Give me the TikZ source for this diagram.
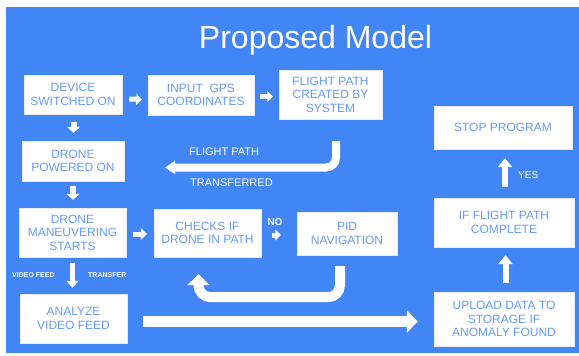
\documentclass[tikz,border=0pt]{standalone}
\usepackage{fontspec}
\setmainfont{Liberation Sans}
\usetikzlibrary{arrows.meta}
\definecolor{bgblue}{RGB}{66,133,244}
\definecolor{txtblue}{RGB}{104,155,240}
\tikzset{
  box/.style={fill=white, draw=black!8, line width=0.4pt, align=center, text=txtblue,
    font=\fontsize{12}{13.5}\selectfont, inner sep=0pt},
  lbl/.style={text=white, inner sep=0pt},
  barrow/.style={draw=white, line width=#1},
}
\begin{document}
\begin{tikzpicture}[x=1pt,y=-1pt]
\fill[white] (0,0) rectangle (579,356);
\useasboundingbox (0,0) rectangle (579,356);
\fill[bgblue] (6,7) rectangle (579,353);

\node[lbl, anchor=base, font=\fontsize{32}{36}\selectfont] (title) at (315.5,48) {Proposed Model};

\node[box, minimum width=98pt, minimum height=39pt] (dev) at (73,94.5) {DEVICE\\SWITCHED ON};
\node[box, minimum width=106pt, minimum height=40pt] (gps) at (201,95) {INPUT~~GPS\\COORDINATES};
\node[box, minimum width=103pt, minimum height=49pt] (fp) at (330.5,94.5) {FLIGHT PATH\\CREATED BY\\SYSTEM};
\node[box, minimum width=138pt, minimum height=43pt] (stop) at (503,127.5) {STOP PROGRAM};
\node[box, minimum width=102pt, minimum height=40pt] (pow) at (73,161) {DRONE\\POWERED ON};
\node[box, minimum width=107pt, minimum height=49pt] (man) at (72.5,232.5) {DRONE\\MANEUVERING\\STARTS};
\node[box, minimum width=107pt, minimum height=48pt] (chk) at (207.5,233) {CHECKS IF\\DRONE IN PATH};
\node[box, minimum width=107pt, minimum height=49pt] (ana) at (73.5,318.5) {ANALYZE\\VIDEO FEED};
\node[box, minimum width=100pt, minimum height=43pt] (pid) at (347,233.5) {PID\\NAVIGATION};
\node[box, minimum width=140pt, minimum height=49pt] (comp) at (504,222.5) {IF FLIGHT PATH\\COMPLETE};
\node[box, minimum width=140pt, minimum height=54pt] (up) at (504,319) {UPLOAD DATA TO\\STORAGE IF\\ANOMALY FOUND};

% small block arrows
\draw[barrow=5pt, -{Triangle[length=5.5pt,width=11pt]}] ([shift={(7,4.5)}]dev.east) -- ([shift={(-6,4.5)}]gps.west);
\draw[barrow=5pt, -{Triangle[length=5.5pt,width=11pt]}] ([shift={(6,1.5)}]gps.east) -- ([shift={(-6,2)}]fp.west);
\draw[barrow=6pt, -{Triangle[length=6pt,width=13pt]}] ([shift={(0.5,8)}]dev.south) -- ([shift={(0.5,-8)}]pow.north);
\draw[barrow=6pt, -{Triangle[length=6pt,width=13pt]}] ([shift={(0,5)}]pow.south) -- ([shift={(0.5,-8)}]man.north);
\draw[barrow=5pt, -{Triangle[length=6pt,width=12pt]}] ([shift={(7,1.5)}]man.east) -- ([shift={(-7,1)}]chk.west);
\draw[barrow=5pt, -{Triangle[length=5.5pt,width=11pt]}] ([shift={(11,2)}]chk.east) -- ([shift={(-16,1.5)}]pid.west);
\draw[barrow=5pt, -{Triangle[length=7pt,width=12pt]}] ([shift={(0,6)}]man.south) -- ([shift={(-1,-6)}]ana.north);
\draw[barrow=6pt, -{Triangle[length=9pt,width=14pt]}] ([shift={(1.5,-9)}]up.north) -- ([shift={(1.5,8)}]comp.south);
\draw[barrow=6pt, -{Triangle[length=9pt,width=14pt]}] ([shift={(1,-11)}]comp.north) -- ([shift={(2,9)}]stop.south);

% curved arrows
\coordinate (c1) at ([shift={(41,6.5)}]pow.east);
\draw[barrow=8pt, rounded corners=10pt, -{Triangle[length=10pt,width=13pt]}]
  ([shift={(5.5,22)}]fp.south) |- (c1);
\coordinate (c2) at ([shift={(-9,17)}]chk.south);
\draw[barrow=10pt, rounded corners=12pt, -{Triangle[length=11pt,width=22pt]}]
  ([shift={(-7,11)}]pid.south) -- ++(0,31) -| (c2);
% long arrow
\draw[barrow=11pt, -{Triangle[length=11pt,width=22pt]}] ([shift={(16,3)}]ana.east) -- ([shift={(-16,2.5)}]up.west);

% labels
\node[lbl, anchor=base west, font=\fontsize{11}{12}\selectfont] (l1) at (189,155) {FLIGHT PATH};
\node[lbl, anchor=base west, font=\fontsize{11}{12}\selectfont] (l2) at (190,186) {TRANSFERRED};
\node[lbl, anchor=base, font=\bfseries\fontsize{10}{11}\selectfont] (l3) at (275,225) {NO};
\node[lbl, anchor=base west, font=\fontsize{10}{11}\selectfont] (l4) at (518,178) {YES};
\node[lbl, anchor=base west, font=\bfseries\fontsize{7}{8}\selectfont] (l5) at (12,277.5) {VIDEO FEED};
\node[lbl, anchor=base west, font=\bfseries\fontsize{7}{8}\selectfont] (l6) at (88,277.5) {TRANSFER};
\end{tikzpicture}
\end{document}
